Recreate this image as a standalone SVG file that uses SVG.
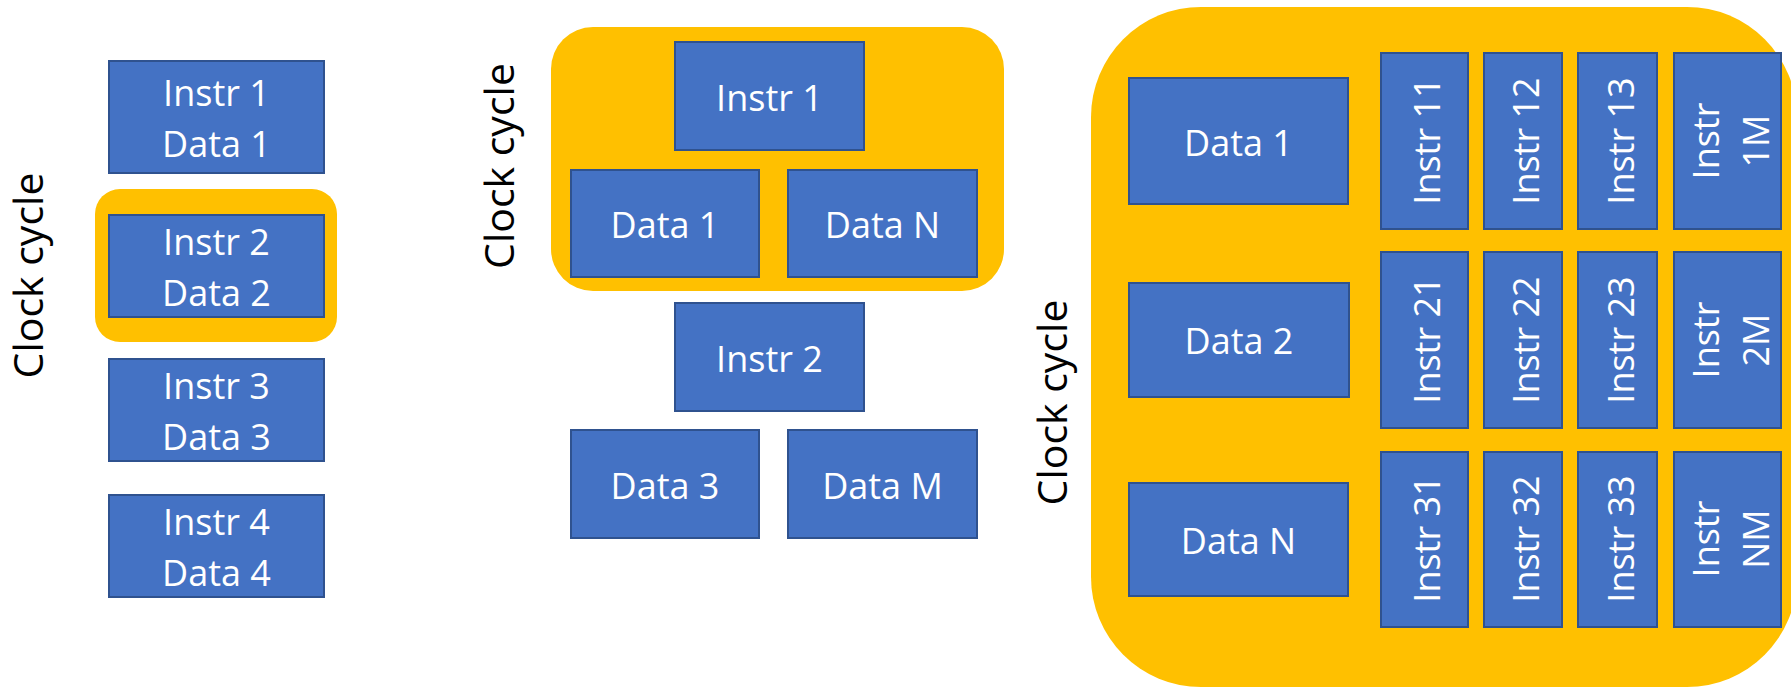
<svg xmlns="http://www.w3.org/2000/svg" width="1791" height="688" viewBox="0 0 1791 688">
<style>
.bg{fill:#FFFFFF}
.hl{fill:#FFC000}
.box{fill:#4472C4;stroke:#2F528F;stroke-width:2}
.t{font-family:"Open Sans","Noto Sans","Liberation Sans",sans-serif;font-size:36px;fill:#FFFFFF;text-anchor:middle}
.cc{font-family:"Open Sans","Noto Sans","Liberation Sans",sans-serif;font-size:41px;fill:#000000;text-anchor:middle}
</style>
<rect class="bg" x="0" y="0" width="1791" height="688"/>

<!-- Panel 1 -->
<g id="p1-label"><text class="cc" transform="translate(43,275.5) rotate(-90)">Clock cycle</text></g>
<g id="p1-highlight"><rect class="hl" x="95" y="189" width="242" height="153" rx="25"/></g>
<g id="p1-n1">
<rect class="box" x="109" y="61" width="215" height="112"/>
<text class="t" x="216.5" y="106">Instr 1</text>
<text class="t" x="216.5" y="157">Data 1</text>
</g>
<g id="p1-n2">
<rect class="box" x="109" y="215" width="215" height="102"/>
<text class="t" x="216.5" y="255">Instr 2</text>
<text class="t" x="216.5" y="306">Data 2</text>
</g>
<g id="p1-n3">
<rect class="box" x="109" y="359" width="215" height="102"/>
<text class="t" x="216.5" y="399">Instr 3</text>
<text class="t" x="216.5" y="450">Data 3</text>
</g>
<g id="p1-n4">
<rect class="box" x="109" y="495" width="215" height="102"/>
<text class="t" x="216.5" y="535">Instr 4</text>
<text class="t" x="216.5" y="586">Data 4</text>
</g>

<!-- Panel 2 -->
<g id="p2-label"><text class="cc" transform="translate(513.5,166) rotate(-90)">Clock cycle</text></g>
<g id="p2-highlight"><rect class="hl" x="551" y="27" width="453" height="264" rx="42"/></g>
<g id="p2-instr1">
<rect class="box" x="675" y="42" width="189" height="108"/>
<text class="t" x="769.5" y="110.5">Instr 1</text>
</g>
<g id="p2-data1">
<rect class="box" x="571" y="170" width="188" height="107"/>
<text class="t" x="665" y="237.5">Data 1</text>
</g>
<g id="p2-dataN">
<rect class="box" x="788" y="170" width="189" height="107"/>
<text class="t" x="882.5" y="237.5">Data N</text>
</g>
<g id="p2-instr2">
<rect class="box" x="675" y="303" width="189" height="108"/>
<text class="t" x="769.5" y="371.5">Instr 2</text>
</g>
<g id="p2-data3">
<rect class="box" x="571" y="430" width="188" height="108"/>
<text class="t" x="665" y="499">Data 3</text>
</g>
<g id="p2-dataM">
<rect class="box" x="788" y="430" width="189" height="108"/>
<text class="t" x="882.5" y="499">Data M</text>
</g>

<!-- Panel 3 -->
<g id="p3-label"><text class="cc" transform="translate(1067,402.5) rotate(-90)">Clock cycle</text></g>
<g id="p3-highlight"><rect class="hl" x="1091" y="7" width="706" height="680" rx="110"/></g>
<g id="p3-data1">
<rect class="box" x="1129" y="78" width="219" height="126"/>
<text class="t" x="1238.5" y="155.5">Data 1</text>
</g>
<g id="p3-data2">
<rect class="box" x="1129" y="283" width="220" height="114"/>
<text class="t" x="1239" y="353.5">Data 2</text>
</g>
<g id="p3-dataN">
<rect class="box" x="1129" y="483" width="219" height="113"/>
<text class="t" x="1238.5" y="553.5">Data N</text>
</g>

<g id="p3-i11"><rect class="box" x="1381" y="53" width="87" height="176"/><text class="t" transform="translate(1440,141) rotate(-90)">Instr 11</text></g>
<g id="p3-i12"><rect class="box" x="1484" y="53" width="78" height="176"/><text class="t" transform="translate(1538.5,141) rotate(-90)">Instr 12</text></g>
<g id="p3-i13"><rect class="box" x="1578" y="53" width="79" height="176"/><text class="t" transform="translate(1633.5,141) rotate(-90)">Instr 13</text></g>
<g id="p3-i1M"><rect class="box" x="1674" y="53" width="107" height="176"/><text class="t" transform="translate(1718.5,141) rotate(-90)">Instr</text><text class="t" transform="translate(1768.5,141) rotate(-90)">1M</text></g>

<g id="p3-i21"><rect class="box" x="1381" y="252" width="87" height="176"/><text class="t" transform="translate(1440,340) rotate(-90)">Instr 21</text></g>
<g id="p3-i22"><rect class="box" x="1484" y="252" width="78" height="176"/><text class="t" transform="translate(1538.5,340) rotate(-90)">Instr 22</text></g>
<g id="p3-i23"><rect class="box" x="1578" y="252" width="79" height="176"/><text class="t" transform="translate(1633.5,340) rotate(-90)">Instr 23</text></g>
<g id="p3-i2M"><rect class="box" x="1674" y="252" width="107" height="176"/><text class="t" transform="translate(1718.5,340) rotate(-90)">Instr</text><text class="t" transform="translate(1768.5,340) rotate(-90)">2M</text></g>

<g id="p3-i31"><rect class="box" x="1381" y="452" width="87" height="175"/><text class="t" transform="translate(1440,539) rotate(-90)">Instr 31</text></g>
<g id="p3-i32"><rect class="box" x="1484" y="452" width="78" height="175"/><text class="t" transform="translate(1538.5,539) rotate(-90)">Instr 32</text></g>
<g id="p3-i33"><rect class="box" x="1578" y="452" width="79" height="175"/><text class="t" transform="translate(1633.5,539) rotate(-90)">Instr 33</text></g>
<g id="p3-iNM"><rect class="box" x="1674" y="452" width="107" height="175"/><text class="t" transform="translate(1718.5,539) rotate(-90)">Instr</text><text class="t" transform="translate(1768.5,539) rotate(-90)">NM</text></g>

<g id="connectors"></g>
</svg>
